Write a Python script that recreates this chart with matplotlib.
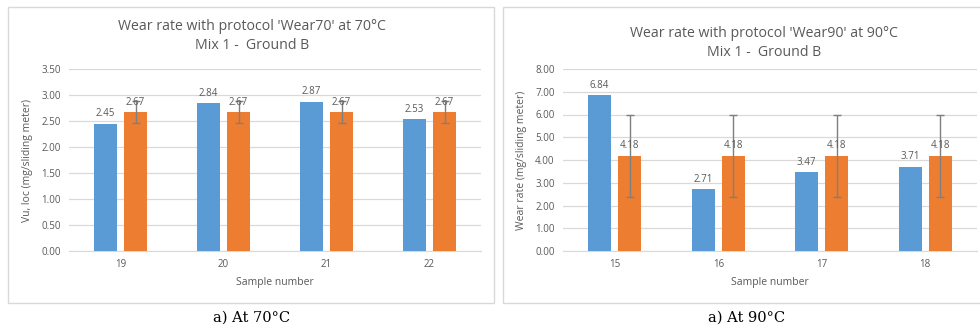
import matplotlib
matplotlib.use("Agg")
import matplotlib.pyplot as plt
from matplotlib.patches import Rectangle
import numpy as np

# Data
samples_70 = ["19", "20", "21", "22"]
wear_70 = [2.45, 2.84, 2.87, 2.53]
mean_70 = [2.67, 2.67, 2.67, 2.67]
err_70 = [0.21, 0.21, 0.21, 0.21]
yticks_70 = [0.0, 0.5, 1.0, 1.5, 2.0, 2.5, 3.0, 3.5]

samples_90 = ["15", "16", "17", "18"]
wear_90 = [6.84, 2.71, 3.47, 3.71]
mean_90 = [4.18, 4.18, 4.18, 4.18]
err_90 = [1.82, 1.82, 1.82, 1.82]
yticks_90 = [0, 1, 2, 3, 4, 5, 6, 7, 8]

BLUE = "#5B9BD5"
ORANGE = "#ED7D31"
TXT = "#595959"
GRID = "#D9D9D9"
FONT = ["Open Sans", "DejaVu Sans"]

W, H = 980, 331
fig = plt.figure(figsize=(W / 100, H / 100), dpi=100)

def fx(px):
    return px / W

def fy(py):
    return 1 - py / H

# Panel borders
for (x0, x1) in [(8, 494), (503, 985)]:
    fig.patches.append(Rectangle((fx(x0), fy(303)), fx(x1 - x0), (303 - 7) / H,
                                 transform=fig.transFigure, fill=False,
                                 edgecolor=GRID, linewidth=1.0))

def panel(rect, cats, vals, means, errs, yticks, ylabel, title, title_xy, caption, cap_x):
    ax = fig.add_axes(rect)
    x = np.arange(len(cats))
    w = 0.22
    off = 0.146
    ax.bar(x - off, vals, w, color=BLUE, zorder=3)
    ax.bar(x + off, means, w, color=ORANGE, zorder=3)
    ax.errorbar(x + off, means, yerr=errs, fmt="none", ecolor="#7F7F7F",
                elinewidth=1.0, capsize=3, capthick=1.0, zorder=4)
    ymax = yticks[-1]
    pad = ymax * 0.025
    for xi, v in zip(x - off, vals):
        ax.text(xi, v + pad, f"{v:.2f}", ha="center", va="bottom", fontsize=7,
                color=TXT, family=FONT, zorder=5)
    for xi, v in zip(x + off, means):
        ax.text(xi, v + pad, f"{v:.2f}", ha="center", va="bottom", fontsize=7,
                color=TXT, family=FONT, zorder=5)
    ax.set_xlim(-0.5, len(cats) - 0.5)
    ax.set_ylim(0, ymax)
    ax.set_yticks(yticks)
    ax.set_yticklabels([f"{t:.2f}" for t in yticks], fontsize=7, color=TXT, family=FONT)
    ax.set_xticks(x)
    ax.set_xticklabels(cats, fontsize=7, color=TXT, family=FONT)
    ax.tick_params(length=0, pad=6)
    ax.grid(axis="y", color=GRID, linewidth=0.9, zorder=0)
    for s in ["left", "right", "top"]:
        ax.spines[s].set_visible(False)
    ax.spines["bottom"].set_color(GRID)
    ax.set_axisbelow(True)
    ax.set_ylabel(ylabel, fontsize=7.5, color=TXT, family=FONT, labelpad=6)
    ax.set_xlabel("Sample number", fontsize=7.5, color=TXT, family=FONT, labelpad=5)
    fig.text(fx(title_xy[0]), fy(title_xy[1]), title, ha="center", va="center", fontsize=10.2,
             color=TXT, family=FONT, linespacing=1.45)
    fig.text(cap_x, fy(318), caption, ha="center", va="center", fontsize=10.5,
             color="black", family=["DejaVu Serif"])
    return ax

panel([fx(69), fy(251), fx(412), (251 - 69) / H], samples_70, wear_70, mean_70, err_70,
      yticks_70, "Vu, loc (mg/sliding meter)",
      "Wear rate with protocol 'Wear70' at 70°C\nMix 1 -  Ground B", (252, 36),
      "a) At 70°C", fx(252))
panel([fx(563), fy(251), fx(414), (251 - 69) / H], samples_90, wear_90, mean_90, err_90,
      yticks_90, "Wear rate (mg/sliding meter)",
      "Wear rate with protocol 'Wear90' at 90°C\nMix 1 -  Ground B", (764, 43),
      "a) At 90°C", fx(747))

fig.savefig("out.png", dpi=100)
